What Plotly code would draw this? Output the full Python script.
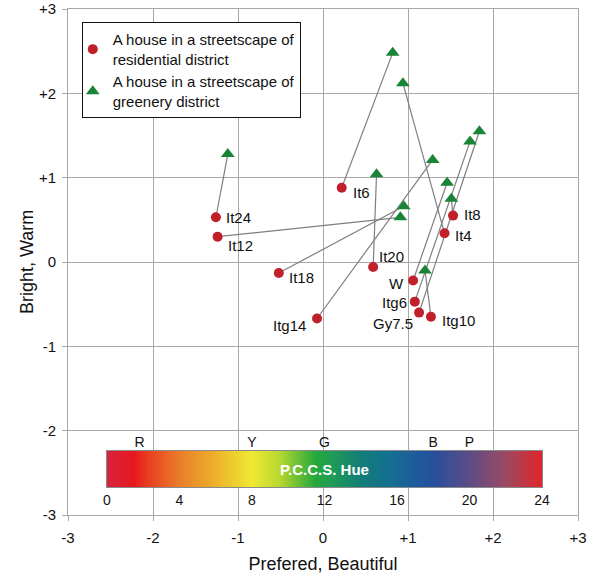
import numpy as np
import plotly.graph_objects as go

# ---- data ----
names = ["It24", "It12", "It18", "Itg14", "It6", "It20", "W", "Itg6", "Gy7.5", "Itg10", "It4", "It8"]
res_x = [-1.26, -1.24, -0.52, -0.07, 0.22, 0.59, 1.06, 1.08, 1.13, 1.27, 1.43, 1.53]
res_y = [0.53, 0.30, -0.13, -0.67, 0.88, -0.06, -0.22, -0.47, -0.60, -0.65, 0.34, 0.55]
grn_x = [-1.12, 0.91, 0.95, 1.29, 0.82, 0.63, 1.46, 1.73, 1.84, 1.20, 0.94, 1.51]
grn_y = [1.28, 0.53, 0.66, 1.21, 2.48, 1.04, 0.94, 1.43, 1.55, -0.10, 2.12, 0.75]

axis_vals = [-3, -2, -1, 0, 1, 2, 3]
axis_text = ["-3", "-2", "-1", "0", "+1", "+2", "+3"]

hue_ticks = [0, 4, 8, 12, 16, 20, 24]
hue_letters = ["R", "Y", "G", "B", "P"]
hue_letter_pos = [1.8, 8, 12, 18, 20]

# ---- styles ----
FONT = "Liberation Sans, Arial, sans-serif"
RED = "#c0202a"
GREEN = "#1a8436"
GRID = "#a8a8a8"
# label offsets (px): xanchor, xshift, yshift
label_style = {
    "It24": ("left", 8, 0), "It12": ("left", 8, -9), "It18": ("left", 8, -5),
    "Itg14": ("right", -9, -7), "It6": ("left", 9, -5), "It20": ("left", 4, 11),
    "W": ("right", -7, -3), "Itg6": ("right", -6, -1), "Gy7.5": ("right", -4, -11),
    "Itg10": ("left", 9, -4), "It4": ("left", 8, -2), "It8": ("left", 9, 1),
}

fig = go.Figure()

# connecting lines
lx, ly = [], []
for a, b, c, d in zip(res_x, res_y, grn_x, grn_y):
    lx += [a, c, None]
    ly += [b, d, None]
fig.add_trace(go.Scatter(x=lx, y=ly, mode="lines", line=dict(color="#7f7f7f", width=1.2),
                         showlegend=False, hoverinfo="skip"))

fig.add_trace(go.Scatter(x=res_x, y=res_y, mode="markers",
                         name="A house in a streetscape of<br>residential district",
                         marker=dict(symbol="circle", size=10, color=RED), text=names))
fig.add_trace(go.Scatter(x=grn_x, y=grn_y, mode="markers",
                         name="A house in a streetscape of<br>greenery district",
                         marker=dict(symbol="triangle-up", size=12, color=GREEN)))

# hue bar
hx = np.linspace(hue_ticks[0], hue_ticks[-1], 481)
stops = [(0, "#d6233d"), (1.5, "#e8181e"), (2.3, "#e84020"), (4, "#e97d28"), (6, "#edb12b"),
         (8, "#efe932"), (9.5, "#b8d830"), (11.5, "#25a83c"), (12.5, "#1f9a58"), (14, "#137d78"),
         (15.5, "#147090"), (17, "#1d5c9c"), (18, "#264f9c"), (20, "#5d4c86"), (22, "#9c4a62"),
         (24, "#e2242a")]
cscale = [[s / 24, c] for s, c in stops]
fig.add_trace(go.Heatmap(x=hx, y=[0], z=[hx], xaxis="x2", yaxis="y2", colorscale=cscale,
                         zmin=0, zmax=24, showscale=False, hoverinfo="skip"))
fig.add_trace(go.Scatter(x=hue_letter_pos, y=[None] * len(hue_letter_pos), xaxis="x3", yaxis="y2",
                         mode="markers", showlegend=False, hoverinfo="skip"))

ann = []
for n, x, y in zip(names, res_x, res_y):
    xa, xs, ys = label_style[n]
    ann.append(dict(x=x, y=y, xref="x", yref="y", text=n, showarrow=False, xanchor=xa,
                    yanchor="middle", xshift=xs, yshift=ys, font=dict(size=15, color="#111")))
ann.append(dict(x=12, y=0, xref="x2", yref="y2", text="<b>P.C.C.S. Hue</b>", showarrow=False,
                font=dict(size=15, color="white")))
ann.append(dict(x=-0.0804, y=0.5, xref="paper", yref="paper", text="Bright, Warm", textangle=-90,
                showarrow=False, xanchor="center", yanchor="middle", font=dict(size=18, color="#111")))

fig.update_layout(
    width=596, height=577, margin=dict(l=68, r=18, t=9, b=62, autoexpand=False),
    paper_bgcolor="white", plot_bgcolor="white",
    font=dict(family=FONT, size=15, color="#111"),
    annotations=ann,
    legend=dict(x=0.027, y=0.974, xanchor="left", yanchor="top", bgcolor="white",
                bordercolor="#111", borderwidth=1, font=dict(size=15), tracegroupgap=4,
                itemwidth=30, indentation=-10),
    xaxis=dict(range=[-3, 3], tickvals=axis_vals, ticktext=axis_text, showgrid=True, gridcolor=GRID,
               zeroline=False, showline=True, linecolor=GRID, mirror=True, ticks="outside",
               ticklen=5, tickcolor=GRID, ticklabelstandoff=4, tickfont=dict(size=15),
               automargin=False,
               title=dict(text="Prefered, Beautiful", font=dict(size=18), standoff=12)),
    yaxis=dict(range=[-3, 3], tickvals=axis_vals, ticktext=axis_text, showgrid=True, gridcolor=GRID,
               zeroline=False, showline=True, linecolor=GRID, mirror=True, ticks="outside",
               ticklen=5, tickcolor=GRID, ticklabelstandoff=3, tickfont=dict(size=15),
               automargin=False),
    xaxis2=dict(domain=[0.0765, 0.9294], anchor="y2", range=[0, 24], tickvals=hue_ticks,
                showgrid=False, zeroline=False, showline=True, mirror=True, linecolor="#8a8a8a",
                ticks="", tickfont=dict(size=14), automargin=False),
    yaxis2=dict(domain=[0.0553, 0.1265], anchor="x2", range=[-0.5, 0.5], showticklabels=False,
                showgrid=False, zeroline=False, showline=True, mirror=True, linecolor="#8a8a8a",
                ticks="", automargin=False),
    xaxis3=dict(overlaying="x2", anchor="y2", side="top", range=[0, 24], tickvals=hue_letter_pos,
                ticktext=hue_letters, showgrid=False, zeroline=False, showline=False, ticks="",
                tickfont=dict(size=14), automargin=False),
)

fig.write_html("out.html")
